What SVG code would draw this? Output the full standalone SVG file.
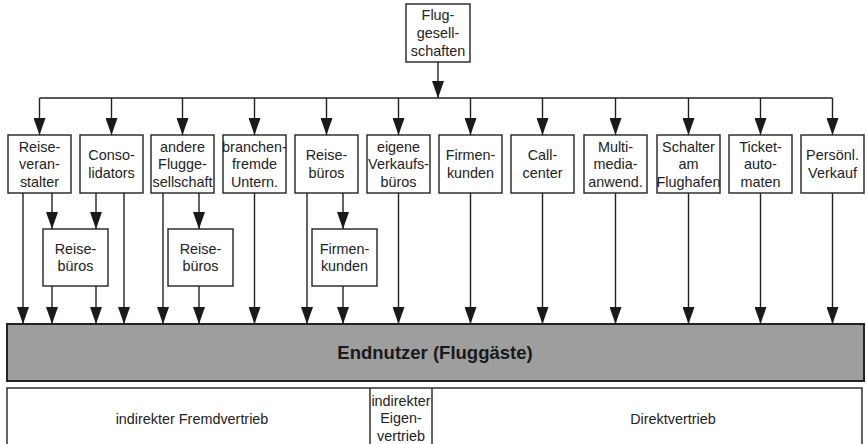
<svg xmlns="http://www.w3.org/2000/svg" width="866" height="444" viewBox="0 0 866 444">
<style>
.box{fill:#fff;stroke:#222;stroke-width:1.4}
.bar{fill:#9e9e9e;stroke:#222;stroke-width:2}
.t{font-family:"Liberation Sans",Arial,sans-serif;font-size:14.4px;fill:#222;text-anchor:middle}
.b{font-family:"Liberation Sans",Arial,sans-serif;font-size:18.5px;font-weight:bold;fill:#1a1a1a;text-anchor:middle}
.c{fill:none;stroke:#222;stroke-width:1.4}
.a{fill:none;stroke:#222;stroke-width:1.4;marker-end:url(#ah)}
</style>
<defs>
<marker id="ah" markerUnits="userSpaceOnUse" markerWidth="17" markerHeight="12" viewBox="0 -6 17 12" refX="17" refY="0" orient="auto">
<path d="M0,-6 L17,0 L0,6 z" fill="#1a1a1a"/>
</marker>
</defs>
<rect width="866" height="444" fill="#fff"/>

<g id="connectors">
<line class="a" x1="438" y1="62" x2="438" y2="98"/>
<line class="c" x1="39.5" y1="98" x2="832.5" y2="98"/>
<line class="a" x1="39.5" y1="98" x2="39.5" y2="135"/>
<line class="a" x1="111.5" y1="98" x2="111.5" y2="135"/>
<line class="a" x1="182.5" y1="98" x2="182.5" y2="135"/>
<line class="a" x1="254.5" y1="98" x2="254.5" y2="135"/>
<line class="a" x1="326.5" y1="98" x2="326.5" y2="135"/>
<line class="a" x1="398.5" y1="98" x2="398.5" y2="135"/>
<line class="a" x1="470.5" y1="98" x2="470.5" y2="135"/>
<line class="a" x1="542.5" y1="98" x2="542.5" y2="135"/>
<line class="a" x1="615.5" y1="98" x2="615.5" y2="135"/>
<line class="a" x1="688.5" y1="98" x2="688.5" y2="135"/>
<line class="a" x1="760.5" y1="98" x2="760.5" y2="135"/>
<line class="a" x1="832.5" y1="98" x2="832.5" y2="135"/>

<line class="a" x1="23" y1="193" x2="23" y2="324"/>
<line class="a" x1="52" y1="193" x2="52" y2="229"/>
<line class="a" x1="96" y1="193" x2="96" y2="229"/>
<line class="a" x1="124" y1="193" x2="124" y2="324"/>
<line class="a" x1="163" y1="193" x2="163" y2="324"/>
<line class="a" x1="199" y1="193" x2="199" y2="229"/>
<line class="a" x1="254.5" y1="193" x2="254.5" y2="324"/>
<line class="a" x1="307" y1="193" x2="307" y2="324"/>
<line class="a" x1="343" y1="193" x2="343" y2="229"/>
<line class="a" x1="398.5" y1="193" x2="398.5" y2="324"/>
<line class="a" x1="470.5" y1="193" x2="470.5" y2="324"/>
<line class="a" x1="542.5" y1="193" x2="542.5" y2="324"/>
<line class="a" x1="615.5" y1="193" x2="615.5" y2="324"/>
<line class="a" x1="688.5" y1="193" x2="688.5" y2="324"/>
<line class="a" x1="760.5" y1="193" x2="760.5" y2="324"/>
<line class="a" x1="832.5" y1="193" x2="832.5" y2="324"/>

<line class="a" x1="52" y1="286" x2="52" y2="324"/>
<line class="a" x1="96" y1="286" x2="96" y2="324"/>
<line class="a" x1="199" y1="286" x2="199" y2="324"/>
<line class="a" x1="343" y1="286" x2="343" y2="324"/>
</g>

<g id="fluggesellschaften">
<rect class="box" x="406" y="4" width="64" height="58"/>
<text class="t"><tspan x="438" y="20">Flug-</tspan><tspan x="438" y="38">gesell-</tspan><tspan x="438" y="56">schaften</tspan></text>
</g>

<g id="reiseveranstalter">
<rect class="box" x="8" y="135" width="63" height="58"/>
<text class="t"><tspan x="39.5" y="151.5">Reise-</tspan><tspan x="39.5" y="169">veran-</tspan><tspan x="39.5" y="186.5">stalter</tspan></text>
</g>
<g id="consolidators">
<rect class="box" x="80" y="135" width="63" height="58"/>
<text class="t"><tspan x="111.5" y="160">Conso-</tspan><tspan x="111.5" y="178">lidators</tspan></text>
</g>
<g id="andere-fluggesellschaft">
<rect class="box" x="151" y="135" width="63" height="58"/>
<text class="t"><tspan x="182.5" y="151.5">andere</tspan><tspan x="182.5" y="169">Flugge-</tspan><tspan x="182.5" y="186.5">sellschaft</tspan></text>
</g>
<g id="branchenfremde">
<rect class="box" x="223" y="135" width="63" height="58"/>
<text class="t"><tspan x="254.5" y="151.5">branchen-</tspan><tspan x="254.5" y="169">fremde</tspan><tspan x="254.5" y="186.5">Untern.</tspan></text>
</g>
<g id="reisebueros-top">
<rect class="box" x="295" y="135" width="63" height="58"/>
<text class="t"><tspan x="326.5" y="160">Reise-</tspan><tspan x="326.5" y="178">büros</tspan></text>
</g>
<g id="eigene-verkaufsbueros">
<rect class="box" x="367" y="135" width="63" height="58"/>
<text class="t"><tspan x="398.5" y="151.5">eigene</tspan><tspan x="398.5" y="169">Verkaufs-</tspan><tspan x="398.5" y="186.5">büros</tspan></text>
</g>
<g id="firmenkunden-top">
<rect class="box" x="439" y="135" width="63" height="58"/>
<text class="t"><tspan x="470.5" y="160">Firmen-</tspan><tspan x="470.5" y="178">kunden</tspan></text>
</g>
<g id="callcenter">
<rect class="box" x="511" y="135" width="63" height="58"/>
<text class="t"><tspan x="542.5" y="160">Call-</tspan><tspan x="542.5" y="178">center</tspan></text>
</g>
<g id="multimedia">
<rect class="box" x="584" y="135" width="63" height="58"/>
<text class="t"><tspan x="615.5" y="151.5">Multi-</tspan><tspan x="615.5" y="169">media-</tspan><tspan x="615.5" y="186.5">anwend.</tspan></text>
</g>
<g id="schalter">
<rect class="box" x="657" y="135" width="63" height="58"/>
<text class="t"><tspan x="688.5" y="151.5">Schalter</tspan><tspan x="688.5" y="169">am</tspan><tspan x="688.5" y="186.5">Flughafen</tspan></text>
</g>
<g id="ticketautomaten">
<rect class="box" x="729" y="135" width="63" height="58"/>
<text class="t"><tspan x="760.5" y="151.5">Ticket-</tspan><tspan x="760.5" y="169">auto-</tspan><tspan x="760.5" y="186.5">maten</tspan></text>
</g>
<g id="persoenl-verkauf">
<rect class="box" x="801" y="135" width="63" height="58"/>
<text class="t"><tspan x="832.5" y="160">Persönl.</tspan><tspan x="832.5" y="178">Verkauf</tspan></text>
</g>

<g id="reisebueros-1">
<rect class="box" x="43" y="229" width="65" height="57"/>
<text class="t"><tspan x="75.5" y="254">Reise-</tspan><tspan x="75.5" y="271">büros</tspan></text>
</g>
<g id="reisebueros-2">
<rect class="box" x="168" y="229" width="65" height="57"/>
<text class="t"><tspan x="200.5" y="254">Reise-</tspan><tspan x="200.5" y="271">büros</tspan></text>
</g>
<g id="firmenkunden-sub">
<rect class="box" x="312" y="229" width="65" height="57"/>
<text class="t"><tspan x="344.5" y="254">Firmen-</tspan><tspan x="344.5" y="271">kunden</tspan></text>
</g>

<g id="endnutzer">
<rect class="bar" x="7" y="324" width="857" height="57"/>
<text class="b" x="435" y="359">Endnutzer (Fluggäste)</text>
</g>

<g id="vertriebsarten">
<rect class="box" x="7" y="388" width="855" height="70"/>
<line class="c" x1="370" y1="388" x2="370" y2="444"/>
<line class="c" x1="432" y1="388" x2="432" y2="444"/>
<text class="t" x="192" y="424">indirekter Fremdvertrieb</text>
<text class="t"><tspan x="401" y="406">indirekter</tspan><tspan x="401" y="423">Eigen-</tspan><tspan x="401" y="441">vertrieb</tspan></text>
<text class="t" x="673" y="424">Direktvertrieb</text>
</g>
</svg>
